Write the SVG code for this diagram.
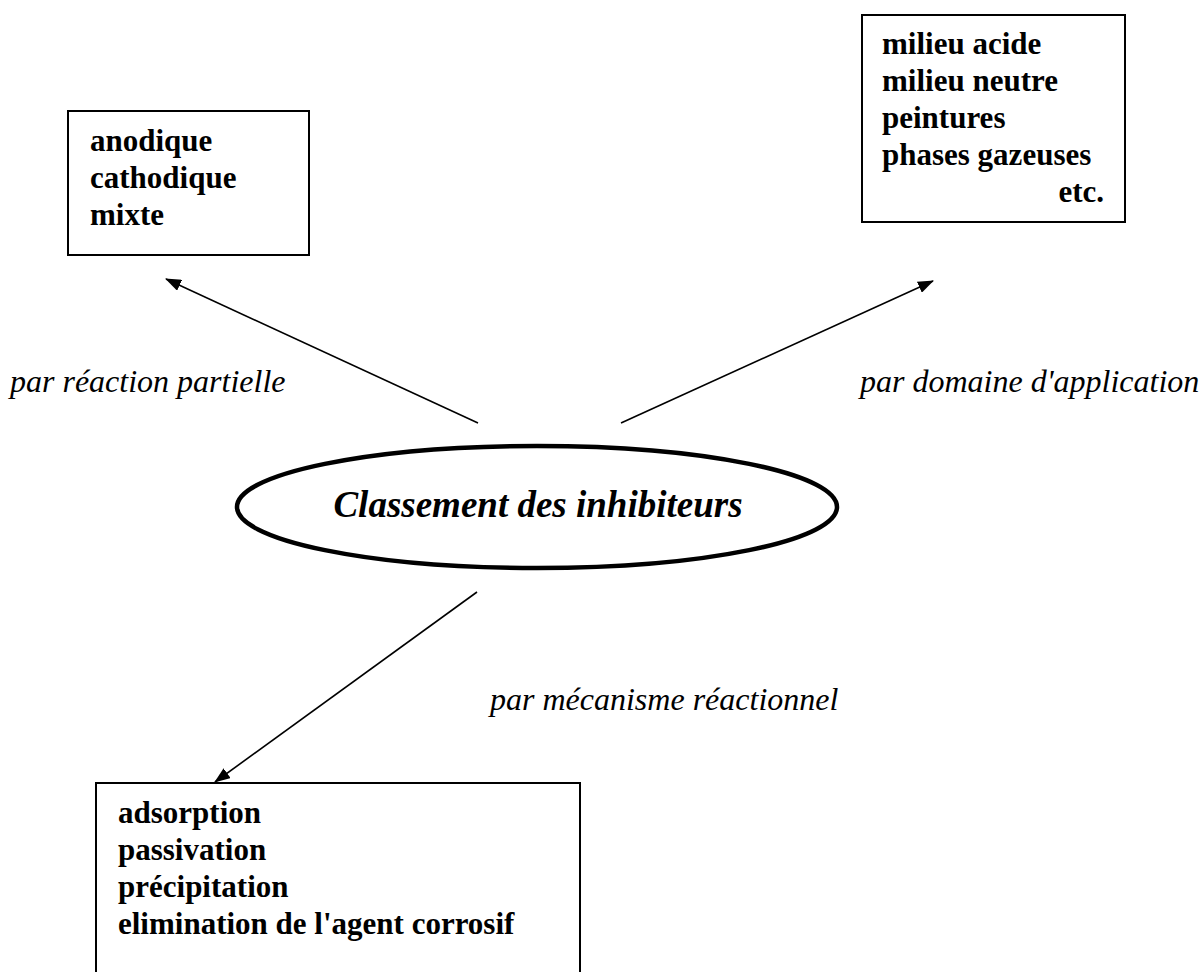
<svg xmlns="http://www.w3.org/2000/svg" width="1204" height="972" viewBox="0 0 1204 972">
<defs>
<marker id="arr" viewBox="0 0 16 12" refX="15" refY="6" markerWidth="16" markerHeight="12" markerUnits="userSpaceOnUse" orient="auto">
<path d="M0,0 L16,6 L0,12 Z" fill="#000"/>
</marker>
<style>
.box{fill:#fff;stroke:#000;stroke-width:2}
.bt{font-family:"Liberation Serif","Times New Roman",serif;font-weight:bold;font-size:31px;fill:#000}
.lab{font-family:"Liberation Serif","Times New Roman",serif;font-style:italic;font-size:32px;fill:#000}
.con{stroke:#000;stroke-width:1.6;fill:none}
</style>
</defs>
<rect width="1204" height="972" fill="#fff"/>
<g id="connectors">
<line class="con" x1="478" y1="423" x2="166" y2="279" marker-end="url(#arr)"/>
<line class="con" x1="621" y1="423" x2="933" y2="281" marker-end="url(#arr)"/>
<line class="con" x1="477" y1="592" x2="215" y2="782" marker-end="url(#arr)"/>
<text class="lab" x="10" y="392">par réaction partielle</text>
<text class="lab" x="860" y="392">par domaine d'application</text>
<text class="lab" x="490" y="710">par mécanisme réactionnel</text>
</g>
<g id="center">
<ellipse cx="537" cy="507" rx="300" ry="61" fill="#fff" stroke="#000" stroke-width="4.5"/>
<text x="538" y="517" text-anchor="middle" font-family="'Liberation Serif','Times New Roman',serif" font-style="italic" font-weight="bold" font-size="37">Classement des inhibiteurs</text>
</g>
<g id="reaction">
<rect class="box" x="68" y="111" width="241" height="144"/>
<text class="bt" x="90" y="151">anodique</text>
<text class="bt" x="90" y="188">cathodique</text>
<text class="bt" x="90" y="225">mixte</text>
</g>
<g id="domaine">
<rect class="box" x="862" y="15" width="263" height="207"/>
<text class="bt" x="882" y="54">milieu acide</text>
<text class="bt" x="882" y="91">milieu neutre</text>
<text class="bt" x="882" y="128">peintures</text>
<text class="bt" x="882" y="165">phases gazeuses</text>
<text class="bt" x="1104" y="202" text-anchor="end">etc.</text>
</g>
<g id="mecanisme">
<rect class="box" x="96" y="783" width="484" height="220"/>
<text class="bt" x="118" y="823">adsorption</text>
<text class="bt" x="118" y="860">passivation</text>
<text class="bt" x="118" y="897">précipitation</text>
<text class="bt" x="118" y="934">elimination de l'agent corrosif</text>
</g>
</svg>
